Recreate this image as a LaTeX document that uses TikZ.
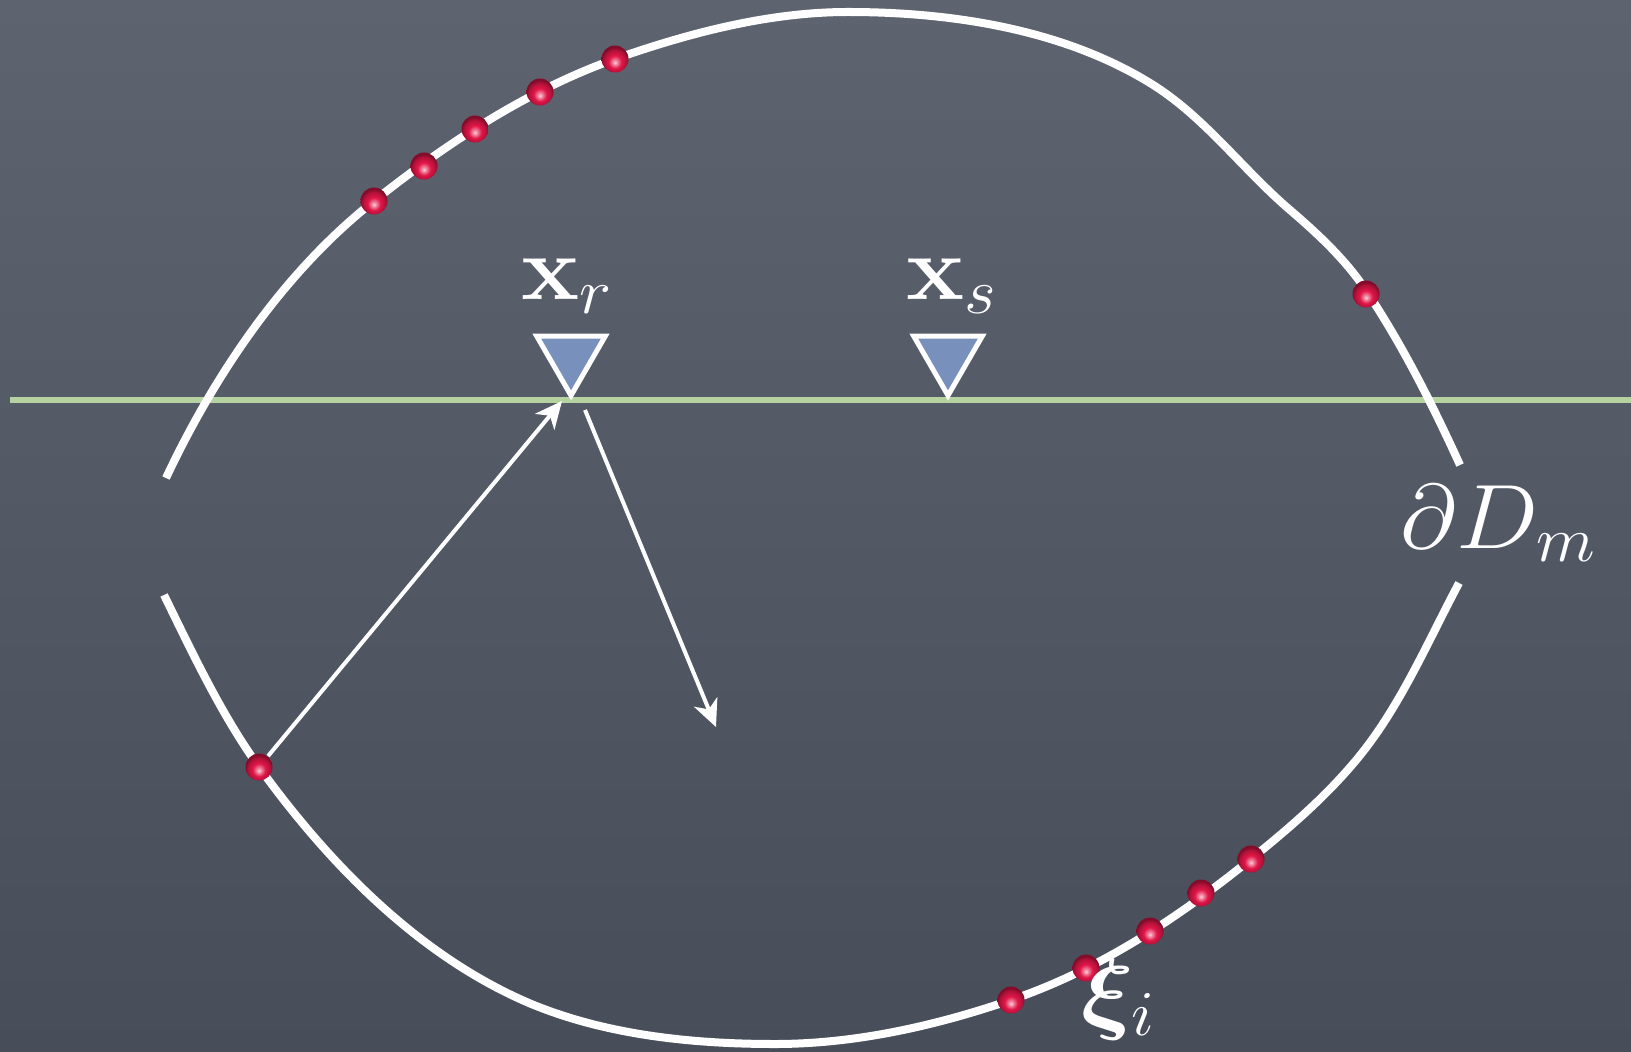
\RequirePackage{fix-cm}
\documentclass[tikz,border=0pt]{standalone}
\usepackage{bm}
\usetikzlibrary{shapes.geometric,arrows.meta}
\definecolor{boardtop}{RGB}{94,99,112}
\definecolor{boardbot}{RGB}{72,77,90}
\definecolor{surface}{RGB}{181,211,160}
\definecolor{recv}{RGB}{119,145,188}
\definecolor{beadred}{RGB}{225,22,72}
\pgfdeclareradialshading{bead}{\pgfqpoint{0bp}{-7bp}}{color(0bp)=(beadred!20!white);
  color(4bp)=(beadred!50!white); color(12bp)=(beadred); color(21bp)=(beadred!78!black);
  color(25bp)=(beadred!58!black); color(50bp)=(beadred!58!black)}

\begin{document}
\begin{tikzpicture}[x=0.01cm,y=-0.01cm,
  bead/.style={circle,inner sep=0pt,minimum size=0.27cm,shading=bead},
  receiver/.style={regular polygon,regular polygon sides=3,shape border rotate=180,
    inner sep=0pt,minimum size=0.79cm,fill=recv,draw=white,line width=0.05cm},
  wall/.style={white,line width=0.08cm},
  ray/.style={white,line width=0.04cm,-{Stealth[length=0.27cm,width=0.25cm,inset=0.08cm]}},
  lab/.style={white,font=\fontsize{26}{30}\selectfont,inner sep=0pt,anchor=base west}]
\useasboundingbox (0,0) rectangle (1631,1052);
\shade[top color=boardtop,bottom color=boardbot] (0,0) rectangle (1631,1052);

\draw[surface,line width=0.055cm] (10,400) -- (1631,400);

\draw[wall] (166,478)
.. controls (215,374) and (284,272) .. (374,201)
.. controls (447,143) and (528,90) .. (615,59)
.. controls (689,33) and (769,12) .. (848,12)
.. controls (951,12) and (1062,29) .. (1150,83)
.. controls (1204,116) and (1242,169) .. (1290,210)
.. controls (1318,234) and (1347,261) .. (1367,292)
.. controls (1403,346) and (1433,406) .. (1460,465);
\draw[wall] (164,595)
.. controls (193,654) and (221,714) .. (259,767)
.. controls (329,864) and (419,956) .. (529,1003)
.. controls (605,1035) and (692,1044) .. (775,1044)
.. controls (855,1044) and (935,1026) .. (1011,1000)
.. controls (1099,970) and (1178,918) .. (1251,859)
.. controls (1287,830) and (1322,800) .. (1352,765)
.. controls (1398,712) and (1426,645) .. (1459,583);

\node[receiver] (rx) at (571,356) {};
\node[receiver] (sx) at (948,356) {};
\node[lab] (rxlab) at (521,300) {\scalebox{1.07}[1]{$\mathbf{x}_r$}};
\node[lab] (sxlab) at (906,300) {\scalebox{1.07}[1]{$\mathbf{x}_s$}};

\node[bead] (p1) at (374,201) {};
\node[bead] (p2) at (424,166) {};
\node[bead] (p3) at (475,129) {};
\node[bead] (p4) at (540,92) {};
\node[bead] (p5) at (615,59) {};
\node[bead] (p6) at (1366,294) {};
\node[bead] (p7) at (259,767) {};
\node[bead] (q1) at (1011,1000) {};
\node[bead] (q2) at (1086,968) {};
\node[bead] (q3) at (1150,931) {};
\node[bead] (q4) at (1201,893) {};
\node[bead] (q5) at (1251,859) {};

\coordinate (tip) at (562,401);
\coordinate (go) at (585,410);
\coordinate (hit) at (716,727);
\draw[ray] (p7) -- (tip);
\draw[ray] (go) -- (hit);

\node[lab] (dlab) at (1400,548) {\scalebox{1.07}[1]{$\partial D_m$}};
\node[lab] (xilab) at (1081,1022) {\scalebox{1.07}[1]{$\bm{\xi}_i$}};
\end{tikzpicture}
\end{document}
